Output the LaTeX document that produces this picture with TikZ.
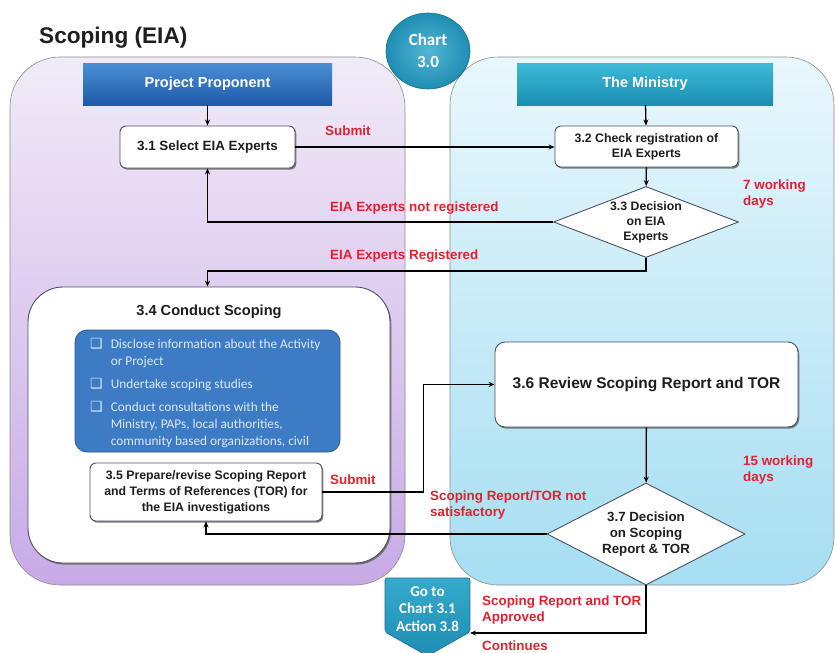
\documentclass[tikz,border=0pt]{standalone}
\usepackage{fontspec}
\setmainfont{Liberation Sans}
\newfontfamily\calib{Carlito}
\newfontfamily\dejavu{DejaVu Sans}
\usetikzlibrary{arrows.meta,shadows,shapes.geometric}
\definecolor{redlab}{HTML}{E3202E}
\definecolor{boxline}{HTML}{4A5262}
\definecolor{txtdark}{HTML}{1E1E1E}
\definecolor{ppTop}{HTML}{4A8FD6}
\definecolor{ppBot}{HTML}{1D5AA8}
\definecolor{mnTop}{HTML}{3DBAD8}
\definecolor{mnBot}{HTML}{1B8EB2}
\definecolor{lavTop}{HTML}{F1EBF8}
\definecolor{lavBot}{HTML}{C8AAE6}
\definecolor{cyTop}{HTML}{E8F7FC}
\definecolor{cyBot}{HTML}{A6DEF2}
\definecolor{bluebox}{HTML}{3D7CC4}
\definecolor{blueline}{HTML}{2A5A94}
\definecolor{bultxt}{HTML}{DDE7F3}
\definecolor{tealA}{HTML}{35AACD}
\definecolor{tealB}{HTML}{1F8DB3}
\newcommand{\bul}{{\dejavu\fontsize{14}{14}\selectfont ❑}}
\begin{document}
\begin{tikzpicture}[x=1pt,y=-1pt,
  proc/.style={draw=boxline, fill=white, rounded corners=6pt, line width=0.9pt,
    drop shadow={shadow xshift=1.3pt, shadow yshift=-1.6pt, fill=black!60, opacity=0.85},
    align=center, inner sep=2pt, text=txtdark},
  dia/.style={draw=boxline, fill=white, diamond, line width=0.9pt, inner sep=0pt},
  dtext/.style={align=center, inner sep=0pt, text=txtdark, font=\bfseries\fontsize{12.3}{15}\selectfont},
  header/.style={draw=none, text=white, font=\bfseries\fontsize{14.5}{16}\selectfont, minimum height=42pt},
  lab/.style={text=redlab, font=\bfseries\fontsize{13.4}{16}\selectfont, align=left, inner sep=0pt, anchor=west},
  arr/.style={draw=black, line width=1.3pt, -{Stealth[length=6pt,width=5pt]}},
  line/.style={draw=black, line width=1.3pt}
]
\useasboundingbox (0,0) rectangle (835,653);
\fill[white] (0,0) rectangle (835,653);

% lanes
\draw[draw=black!45, line width=0.6pt, top color=lavTop, bottom color=lavBot, rounded corners=50pt]
  (10,57) rectangle (405,585);
\draw[draw=black!45, line width=0.6pt, top color=cyTop, bottom color=cyBot, rounded corners=48pt]
  (450,57) rectangle (834,585);

% title
\node[anchor=west, inner sep=0pt, font=\bfseries\fontsize{22.6}{26}\selectfont, text=txtdark] (title) at (39,38) {Scoping (EIA)};

% chart circle
\node[ellipse, draw=tealB!80!black, line width=0.6pt, inner color=tealA!85!white, outer color=tealB,
  minimum width=84pt, minimum height=76pt, align=center, text=white,
  font=\calib\bfseries\fontsize{17}{22}\selectfont] (chart) at (428,51) {Chart\\3.0};

% headers
\node[header, top color=ppTop, bottom color=ppBot, minimum width=249pt] (pp) at (207.5,84) {Project Proponent};
\node[header, top color=mnTop, bottom color=mnBot, minimum width=256pt] (mn) at (645,84) {The Ministry};

% process boxes
\node[proc, minimum width=175pt, minimum height=42pt, font=\bfseries\fontsize{13.4}{16}\selectfont] (s31) at (207.5,147) {3.1 Select EIA Experts};
\node[proc, minimum width=183pt, minimum height=41pt, font=\bfseries\fontsize{12.3}{15}\selectfont] (s32) at (646.5,146.5) {3.2 Check registration of\\EIA Experts};
\node[dia, minimum width=185pt, minimum height=71pt] (d33) at (646,222) {};
\node[dtext] (t33) at (d33.center) {3.3 Decision\\on EIA\\Experts};

\node[proc, rounded corners=35pt, minimum width=362pt, minimum height=276pt] (s34) at (209,425) {};
\node[inner sep=0pt, text=txtdark, font=\bfseries\fontsize{14.6}{17}\selectfont] (t34) at (209,312) {3.4 Conduct Scoping};

\node[draw=blueline, fill=bluebox, line width=0.8pt, rounded corners=12pt, minimum width=265pt, minimum height=122pt] (bl) at (207.5,391) {};
\node[anchor=north west, inner sep=0pt, text=bultxt, font=\calib\fontsize{13.3}{17}\selectfont] (blt) at (90,336)
  {\begin{tabular}{@{}l@{\hspace{8pt}}l@{}}
   \bul & Disclose information about the Activity\\
        & or Project\\[6pt]
   \bul & Undertake scoping studies\\[6pt]
   \bul & Conduct consultations with the\\
        & Ministry, PAPs, local authorities,\\
        & community based organizations, civil
   \end{tabular}};

\node[proc, minimum width=232pt, minimum height=58pt, font=\bfseries\fontsize{12.3}{16}\selectfont] (s35) at (206,492)
  {3.5 Prepare/revise Scoping Report\\and Terms of References (TOR) for\\the EIA investigations};

\node[proc, rounded corners=10pt, minimum width=303pt, minimum height=85pt, font=\bfseries\fontsize{15.5}{18}\selectfont] (s36) at (646.5,384.5) {3.6 Review Scoping Report and TOR};
\node[dia, minimum width=198pt, minimum height=102pt] (d37) at (646,534) {};
\node[dtext, font=\bfseries\fontsize{13.3}{16}\selectfont] (t37) at (d37.center) {3.7 Decision\\on Scoping\\Report \& TOR};

% go to
\draw[draw=tealB!80!black, line width=0.6pt, top color=tealA, bottom color=tealB, rounded corners=2pt]
  (385,578) -- (470,578) -- (470,632) -- (427.5,656) -- (385,632) -- cycle;
\node[align=center, inner sep=0pt, text=white, font=\calib\bfseries\fontsize{15}{17.5}\selectfont] (goto) at (427.5,609) {Go to\\Chart 3.1\\Action 3.8};
\coordinate (gotoR) at (470,633);

% connectors
\draw[arr] (pp) -- (s31);
\draw[arr] (s31.east) -- (s32.west |- s31.east);
\draw[arr] (mn) -- (s32);
\draw[arr] (s32) -- (d33);
\draw[arr] (d33.west) -| (s31.south);
\draw[arr] (d33.south) -- ++(0,13) -| (s34.north -| s31.south);
\draw[arr] (s35.east) -- ++(101,0) |- (s36.west);
\draw[arr] (s36) -- (d37);
\draw[arr] (d37.west) -| (s35.south);
\draw[arr] (d37.south) |- (gotoR);

% red labels
\node[lab] (sub1) at (325,131) {Submit};
\node[lab] (nreg) at (330,208) {EIA Experts not registered};
\node[lab] (reg) at (330,256) {EIA Experts Registered};
\node[lab] (w7) at (743,194) {7 working\\days};
\node[lab] (sub2) at (330,480) {Submit};
\node[lab] (w15) at (743,470) {15 working\\days};
\node[lab] (nsat) at (430,505.5) {Scoping Report/TOR not\\satisfactory};
\node[lab] (appr) at (482,610.5) {Scoping Report and TOR\\Approved};
\node[lab] (cont) at (482,646) {Continues};
\end{tikzpicture}
\end{document}
